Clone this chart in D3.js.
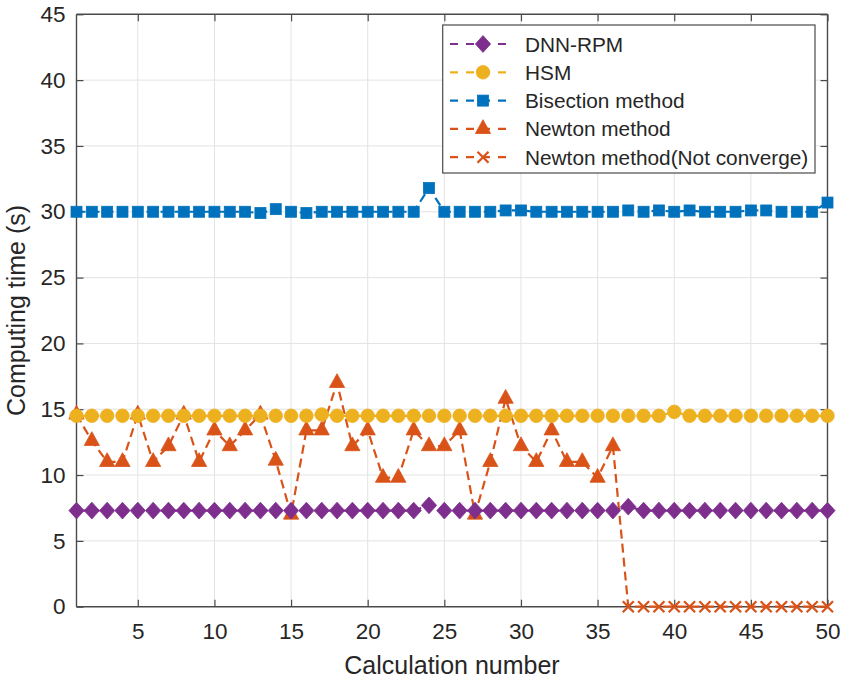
<!DOCTYPE html>
<html>
<head>
<meta charset="utf-8">
<script src="https://cdn.jsdelivr.net/npm/d3@7/dist/d3.min.js"></script>
<style>
  html, body { margin: 0; padding: 0; background: #fff; }
  svg { display: block; font-family: "Liberation Sans", Arial, sans-serif; }
</style>
</head>
<body>
<svg id="chart" width="842" height="680"></svg>
<script>
// Calculation index 1..50
const calcNumbers = d3.range(1, 51);

// Computing time (s) per method
const dnnRpm = [7.3,7.3,7.3,7.3,7.3,7.3,7.3,7.3,7.3,7.3,
                7.3,7.3,7.3,7.3,7.3,7.3,7.3,7.3,7.3,7.3,
                7.3,7.3,7.3,7.7,7.3,7.3,7.3,7.3,7.3,7.3,
                7.3,7.3,7.3,7.3,7.3,7.3,7.6,7.3,7.3,7.3,
                7.3,7.3,7.3,7.3,7.3,7.3,7.3,7.3,7.3,7.3];
const hsm = [14.5,14.5,14.5,14.5,14.5,14.5,14.5,14.5,14.5,14.5,
             14.5,14.5,14.5,14.5,14.5,14.5,14.6,14.5,14.5,14.5,
             14.5,14.5,14.5,14.5,14.5,14.5,14.5,14.5,14.5,14.5,
             14.5,14.5,14.5,14.5,14.5,14.5,14.5,14.5,14.5,14.8,
             14.5,14.5,14.5,14.5,14.5,14.5,14.5,14.5,14.5,14.5];
const bisection = [30.0,30.0,30.0,30.0,30.0,30.0,30.0,30.0,30.0,30.0,
                   30.0,30.0,29.9,30.2,30.0,29.9,30.0,30.0,30.0,30.0,
                   30.0,30.0,30.0,31.8,30.0,30.0,30.0,30.0,30.1,30.1,
                   30.0,30.0,30.0,30.0,30.0,30.0,30.1,30.0,30.1,30.0,
                   30.1,30.0,30.0,30.0,30.1,30.1,30.0,30.0,30.0,30.7];
// Newton method converged for runs 1..36
const newton = [14.6,12.6,11.0,11.0,14.6,11.0,12.2,14.6,11.0,13.4,
                12.2,13.4,14.6,11.1,7.0,13.4,13.4,17.0,12.2,13.4,
                9.8,9.8,13.4,12.2,12.2,13.4,7.0,11.0,15.8,12.2,
                11.0,13.4,11.0,11.0,9.8,12.2];
// Runs 37..50 did not converge
const notConverge = [0,0,0,0,0,0,0,0,0,0,0,0,0,0];

const xTicks = [5,10,15,20,25,30,35,40,45,50];
const yTicks = [0,5,10,15,20,25,30,35,40,45];
const seriesNames = ["DNN-RPM","HSM","Bisection method","Newton method","Newton method(Not converge)"];

const colors = {
  dnn: "#7E2F8E",
  hsm: "#EDB120",
  bis: "#0072BD",
  newton: "#D95319"
};

const svg = d3.select("#chart");
const margin = {left: 76.5, right: 842 - 827.5, top: 14.3, bottom: 680 - 606.7};
const W = 842, H = 680;

const x = d3.scaleLinear().domain([1, 50]).range([margin.left, W - margin.right]);
const y = d3.scaleLinear().domain([0, 45]).range([H - margin.bottom, margin.top]);

const axisColor = "#4a4a4a";
const textColor = "#262626";

// grid
const grid = svg.append("g");
grid.selectAll("line.gx").data(xTicks.filter(t => t < 50)).join("line")
  .attr("x1", d => x(d)).attr("x2", d => x(d))
  .attr("y1", y(0)).attr("y2", y(45))
  .attr("stroke", "#e3e3e3").attr("stroke-width", 1);
grid.selectAll("line.gy").data(yTicks.filter(t => t > 0 && t < 45)).join("line")
  .attr("x1", x(1)).attr("x2", x(50))
  .attr("y1", d => y(d)).attr("y2", d => y(d))
  .attr("stroke", "#e3e3e3").attr("stroke-width", 1);

// axes with inward ticks on all four sides
const tickLen = 7;
const fmt = d3.format("d");
const bottomAxis = d3.axisBottom(x).tickValues(xTicks).tickSize(-tickLen).tickPadding(16).tickFormat(fmt);
const topAxis = d3.axisTop(x).tickValues(xTicks).tickSize(-tickLen).tickFormat("");
const leftAxis = d3.axisLeft(y).tickValues(yTicks).tickSize(-tickLen).tickPadding(11).tickFormat(fmt);
const rightAxis = d3.axisRight(y).tickValues(yTicks).tickSize(-tickLen).tickFormat("");

function styleAxis(g) {
  g.select(".domain").attr("stroke", axisColor).attr("stroke-width", 1.4);
  g.selectAll(".tick line").attr("stroke", axisColor).attr("stroke-width", 1.2);
  g.selectAll(".tick text").attr("fill", textColor).style("font-size", "22.5px")
    .style("font-family", "'Liberation Sans', Arial, sans-serif");
}

svg.append("g").attr("transform", `translate(0,${y(0)})`).call(bottomAxis).call(styleAxis)
  .call(g => g.select(".domain").attr("d", `M${x(1)},0H${x(50)}`));
svg.append("g").attr("transform", `translate(0,${y(45)})`).call(topAxis).call(styleAxis)
  .call(g => g.select(".domain").attr("d", `M${x(1)},0H${x(50)}`));
svg.append("g").attr("transform", `translate(${x(1)},0)`).call(leftAxis).call(styleAxis)
  .call(g => g.select(".domain").attr("d", `M0,${y(0)}V${y(45)}`));
svg.append("g").attr("transform", `translate(${x(50)},0)`).call(rightAxis).call(styleAxis)
  .call(g => g.select(".domain").attr("d", `M0,${y(0)}V${y(45)}`));

// axis titles
svg.append("text")
  .attr("x", (x(1) + x(50)) / 2).attr("y", 674)
  .attr("text-anchor", "middle").attr("fill", textColor)
  .style("font-size", "25px").text("Calculation number");
svg.append("text")
  .attr("transform", `translate(25,${(y(0) + y(45)) / 2}) rotate(-90)`)
  .attr("text-anchor", "middle").attr("fill", textColor)
  .style("font-size", "25px").text("Computing time (s)");

// marker shapes
const markers = {
  diamond: (s) => s.append("path").attr("d", "M0,-8.4L7.6,0L0,8.4L-7.6,0Z"),
  circle: (s) => s.append("circle").attr("r", 6.8),
  square: (s) => s.append("rect").attr("x", -5.5).attr("y", -5.5).attr("width", 11).attr("height", 11),
  triangle: (s) => s.append("path").attr("d", "M0,-9.2L7.6,4.6L-7.6,4.6Z"),
  cross: (s) => s.append("path").attr("d", "M-5.5,-5.5L5.5,5.5M-5.5,5.5L5.5,-5.5")
};

const dash = "9,5";
const line = d3.line().x(d => x(d[0])).y(d => y(d[1]));

function drawSeries(points, color, marker, linePoints) {
  const g = svg.append("g");
  g.append("path").attr("d", line(linePoints || points))
    .attr("fill", "none").attr("stroke", color).attr("stroke-width", 2.2)
    .attr("stroke-dasharray", dash);
  g.selectAll("g.m").data(points).join("g")
    .attr("transform", d => `translate(${x(d[0])},${y(d[1])})`)
    .each(function () {
      const m = markers[marker](d3.select(this));
      if (marker === "cross") m.attr("fill", "none").attr("stroke", color).attr("stroke-width", 2.3);
      else m.attr("fill", color).attr("stroke", color).attr("stroke-width", 0.8);
    });
}

const newtonPts = newton.map((v, i) => [calcNumbers[i], v]);
const ncPts = notConverge.map((v, i) => [calcNumbers[newton.length + i], v]);

drawSeries(newtonPts, colors.newton, "triangle");
drawSeries(ncPts, colors.newton, "cross", [newtonPts[newtonPts.length - 1], ...ncPts]);
drawSeries(dnnRpm.map((v, i) => [calcNumbers[i], v]), colors.dnn, "diamond");
drawSeries(hsm.map((v, i) => [calcNumbers[i], v]), colors.hsm, "circle");
drawSeries(bisection.map((v, i) => [calcNumbers[i], v]), colors.bis, "square");

// legend
const legendItems = [
  {name: seriesNames[0], color: colors.dnn, marker: "diamond"},
  {name: seriesNames[1], color: colors.hsm, marker: "circle"},
  {name: seriesNames[2], color: colors.bis, marker: "square"},
  {name: seriesNames[3], color: colors.newton, marker: "triangle"},
  {name: seriesNames[4], color: colors.newton, marker: "cross"}
];
const lg = svg.append("g");
lg.append("rect").attr("x", 442.7).attr("y", 25).attr("width", 815 - 442.7).attr("height", 173 - 25)
  .attr("fill", "#fff").attr("stroke", axisColor).attr("stroke-width", 1.2);
const rows = lg.selectAll("g.row").data(legendItems).join("g")
  .attr("transform", (d, i) => `translate(0,${44 + i * 28.3})`);
rows.append("line").attr("x1", 450).attr("x2", 514).attr("y1", 0).attr("y2", 0)
  .attr("stroke", d => d.color).attr("stroke-width", 2.2).attr("stroke-dasharray", "8,8");
rows.each(function (d) {
  const g = d3.select(this).append("g").attr("transform", "translate(483,0)");
  const m = markers[d.marker](g);
  if (d.marker === "cross") m.attr("fill", "none").attr("stroke", d.color).attr("stroke-width", 2.3);
  else m.attr("fill", d.color).attr("stroke", d.color).attr("stroke-width", 0.8);
});
rows.append("text").attr("x", 525).attr("y", 7.5).attr("fill", textColor)
  .style("font-size", "20.8px").text(d => d.name);
</script>
</body>
</html>
